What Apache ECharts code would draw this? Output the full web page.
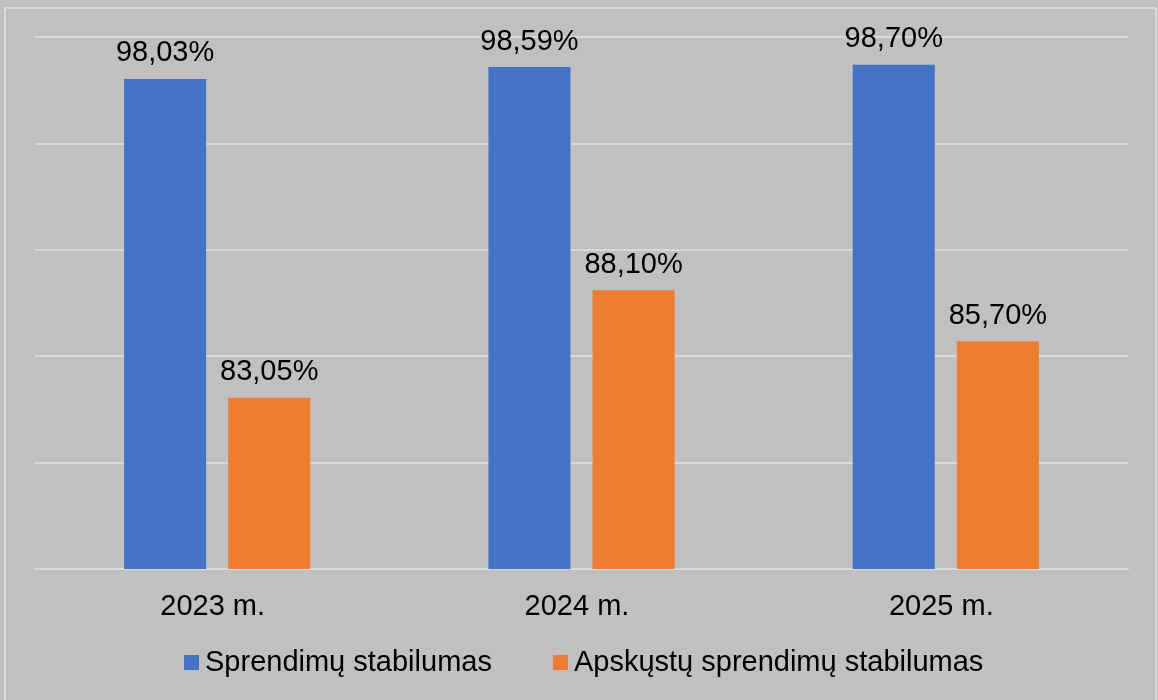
<!DOCTYPE html>
<html>
<head>
<meta charset="utf-8">
<script src="https://cdn.jsdelivr.net/npm/echarts@6/dist/echarts.min.js"></script>
<style>
  html, body { margin: 0; padding: 0; background: #c0c0c0; }
  #chart { width: 1158px; height: 700px; }
</style>
</head>
<body>
<div id="chart"></div>
<script>
  // duomenys
  var categories = ['2023 m.', '2024 m.', '2025 m.']
  var sprendimu = [98.03, 98.59, 98.70]
  var apskustu = [83.05, 88.10, 85.70]
  var seriesNames = ['Sprendimų stabilumas', 'Apskųstų sprendimų stabilumas']

  var chart = echarts.init(document.getElementById('chart'))
  var font = 'Liberation Sans, Arial, sans-serif'

  function pct(p) {
    return p.value.toFixed(2).replace('.', ',') + '%'
  }

  chart.setOption({
    backgroundColor: '#c0c0c0',
    animation: false,
    graphic: [{
      type: 'rect',
      shape: { x: 5, y: 8, width: 1151, height: 700 },
      style: { fill: 'none', stroke: '#d9d9d9', lineWidth: 2 },
      silent: true
    }],
    grid: {
      left: 35,
      right: 30,
      top: 37,
      bottom: 131,
      containLabel: false
    },
    legend: {
      data: seriesNames,
      bottom: 18,
      left: 179,
      icon: 'rect',
      itemWidth: 15,
      itemHeight: 15,
      itemGap: 61,
      textStyle: {
        color: '#000',
        fontSize: 29,
        fontFamily: font,
        padding: [0, 0, 0, 1]
      }
    },
    xAxis: {
      type: 'category',
      data: categories,
      axisLine: { lineStyle: { color: '#d9d9d9', width: 2 } },
      axisTick: { show: false },
      axisLabel: {
        color: '#000',
        fontSize: 29,
        fontFamily: font,
        margin: 23,
        padding: [0, 9, 0, 0]
      }
    },
    yAxis: {
      type: 'value',
      min: 75,
      max: 100,
      interval: 5,
      axisLabel: { show: false },
      axisLine: { show: false },
      axisTick: { show: false },
      splitLine: { lineStyle: { color: '#d9d9d9', width: 2 } }
    },
    series: [
      {
        name: seriesNames[0],
        type: 'bar',
        data: sprendimu,
        barWidth: 82,
        barGap: '27%',
        itemStyle: { color: '#4472c4' },
        label: {
          show: true,
          position: 'top',
          distance: 11,
          color: '#000',
          fontSize: 29,
          fontFamily: font,
          formatter: pct
        }
      },
      {
        name: seriesNames[1],
        type: 'bar',
        data: apskustu,
        barWidth: 82,
        itemStyle: { color: '#ed7d31' },
        label: {
          show: true,
          position: 'top',
          distance: 11,
          color: '#000',
          fontSize: 29,
          fontFamily: font,
          formatter: pct
        }
      }
    ]
  })
</script>
</body>
</html>
